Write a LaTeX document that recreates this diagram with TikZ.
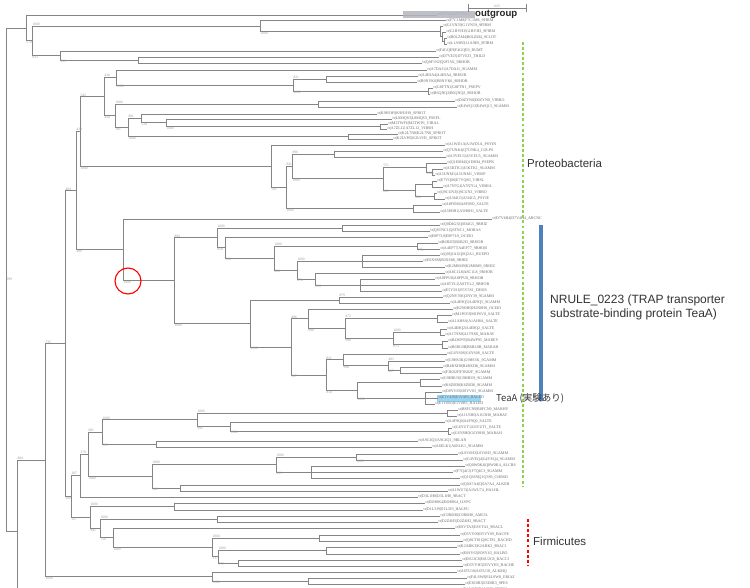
\documentclass[tikz,border=0pt]{standalone}
\usepackage{fontspec}
\setmainfont{Liberation Serif}
\newfontfamily\annot{Liberation Sans}
\newfontfamily\jpfont{Noto Sans CJK JP}
\usetikzlibrary{calc}
\definecolor{brc}{HTML}{858585}
\definecolor{labc}{HTML}{6A6A6A}
\definecolor{bsc}{HTML}{9A9A9A}
\definecolor{ogc}{HTML}{B4B6BE}
\definecolor{teac}{HTML}{9DD6F2}
\definecolor{grn}{HTML}{92D050}
\definecolor{barc}{HTML}{4F81BD}
\definecolor{anc}{HTML}{333333}
\tikzset{
  br/.style={draw=brc, line width=0.6pt},
  lab/.style={font=\fontsize{4}{4}\selectfont, text=labc, inner sep=0.5pt},
  bs/.style={font=\fontsize{3.6}{3.6}\selectfont, text=bsc, inner sep=0.3pt},
  ann/.style={font=\annot\fontsize{11.5}{14.5}\selectfont, text=anc, inner sep=0pt},
  dotline/.style={line width=2.9pt, dash pattern=on 2.9pt off 2.2pt},
}
\newcommand\leaf[5]{%
  \coordinate (#1) at (#2,#3);
  \node[lab,anchor=west] (#1t) at (#1) {tr|#4|#4\_#5};}
\newcommand\clade[5]{%
  \gdef\cfirst{}%
  \foreach \chld in {#3}{\ifx\cfirst\empty\xdef\cfirst{\chld}\fi\xdef\clast{\chld}}%
  \edef\tmp{\noexpand\coordinate (#1m) at ($(\cfirst)!0.5!(\clast)$);
    \noexpand\coordinate (#1) at (#2,0 |- #1m);
    \noexpand\draw[br] (#1 |- \cfirst) -- (#1 |- \clast);}\tmp
  \foreach \chld in {#3}{\edef\tmp{\noexpand\draw[br] (#1 |- \chld) -- (\chld);}\tmp}%
  \if\relax\detokenize{#4}\relax\else
    \edef\tmp{\noexpand\node[bs,anchor=south west] (#1t) at (#1 |- \cfirst) {#4};}\tmp\fi
  \if\relax\detokenize{#5}\relax\else
    \edef\tmp{\noexpand\node[bs,anchor=north west] (#1b) at (#1 |- \clast) {#5};}\tmp\fi
}
\begin{document}
\begin{tikzpicture}[x=1pt,y=-1pt]
\useasboundingbox (0,0) rectangle (750,588);
\fill[white] (0,0) rectangle (750,588);
\clip (0,0) rectangle (750,588);
% highlight
\fill[teac] (437,394.5) rectangle (481,401.5);
% leaves
\coordinate (L1) at (437,15);
\node[lab,anchor=west] (L1t) at (L1) {tr|D7T8S4|D7T8S4};
\leaf{L2}{446}{20.5}{F7C1M8}{9FIRM}
\leaf{L3}{443}{26}{G1VN59}{9FIRM}
\leaf{L4}{446}{32}{G1BYH3}{9FIRM}
\leaf{L5}{447}{38}{B0LZM4}{9CLOT}
\leaf{L6}{447}{44}{L1A9E0}{9FIRM}
\leaf{L7}{436}{51}{F4GQE9}{RUMT}
\leaf{L8}{439}{57}{D7VEJ3}{THILD}
\leaf{L9}{422}{63}{Q0F1N2}{9RHOB}
\leaf{L10}{427}{70}{A7DAJ1}{9GAMM}
\leaf{L11}{418}{76}{A4E9A4}{9RHOB}
\leaf{L12}{417}{82}{B9NVK6}{9RHOB}
\leaf{L13}{433}{88}{G8FTN1}{PSEPV}
\leaf{L14}{430}{94}{B6QNQ2}{9RHOB}
\leaf{L15}{455}{101}{D0ZYN0}{VIBRO}
\leaf{L16}{457}{107}{E4WQ13}{9GAMM}
\leaf{L17}{377}{114}{K9H1H9}{SPROT}
\leaf{L18}{392}{119}{L8MQS3}{PSEFL}
\leaf{L19}{388}{124}{M2TWF6}{VIBAL}
\leaf{L20}{387}{129}{A7ZL12}{VIBSH}
\leaf{L21}{398}{134}{K2L7N8}{SPROT}
\leaf{L22}{393}{139}{K2LVH5}{SPROT}
\leaf{L23}{445}{145}{A1WD1A}{PSYIN}
\leaf{L24}{443}{151}{Q7UNK4}{COLPS}
\leaf{L25}{446}{157}{A3VEU5}{9GAMM}
\leaf{L26}{447}{163}{Q1E8H4}{PSEPK}
\leaf{L27}{443}{169}{A5KTK1}{9GAMM}
\leaf{L28}{435}{175}{A5UNM1}{VIBSP}
\leaf{L29}{437}{181}{E7VQS0}{VIBSL}
\leaf{L30}{443}{187}{A7N7G4}{VIBHA}
\leaf{L31}{437}{193}{Q9CUN3}{VIBRO}
\leaf{L32}{445}{199}{A3I4G5}{PSYIE}
\leaf{L33}{442}{205}{A8F0N0}{SALTE}
\leaf{L34}{440}{212}{A5H0H1}{SALTE}
\leaf{L35}{492}{219}{D7V4H4}{ARCNC}
\leaf{L36}{440}{225}{Q0D4G5}{9RHIZ}
\leaf{L37}{430}{231}{Q6TNC1}{MORAS}
\leaf{L38}{428}{237}{E8P7L9}{OCEIO}
\leaf{L39}{438}{243}{B6B2I3}{9RHOB}
\leaf{L40}{440}{249}{A4EP77}{9RHOB}
\leaf{L41}{440}{255}{Q0Q2A1}{RUEPO}
\leaf{L42}{423}{261}{E0XS88}{9RHIZ}
\leaf{L43}{445}{267}{K2M6M9}{9RHIZ}
\leaf{L44}{445}{273}{A8C1L8}{9RHOB}
\leaf{L45}{435}{279}{A8FPU8}{9RHOB}
\leaf{L46}{440}{285}{A8TYL2}{9RHOB}
\leaf{L47}{442}{291}{E5V5S1}{DESIS}
\leaf{L48}{443}{297}{Q2NY39}{9GAMM}
\leaf{L49}{450}{303}{A4E9Q5}{9GAMM}
\leaf{L50}{453}{309}{H2N0H0}{OCEIO}
\leaf{L51}{452}{315}{M1P6V8}{SALTE}
\leaf{L52}{448}{322}{A1AH8A}{SALTE}
\leaf{L53}{447}{329}{A4E8Q2}{SALTE}
\leaf{L54}{445}{335}{A1T9X8}{MARAV}
\leaf{L55}{448}{341}{B4WP95}{MAREY}
\leaf{L56}{448}{348}{B6RL9B}{MARAH}
\leaf{L57}{447}{354}{G6YS0S}{SALTE}
\leaf{L58}{445}{361}{G9HS3K}{9GAMM}
\leaf{L59}{443}{367}{B4RXH8}{9GAMM}
\leaf{L60}{442}{373}{F3K82F}{9GAMM}
\leaf{L61}{440}{379}{G9HBU9}{9GAMM}
\leaf{L62}{442}{386}{K6Z0D8}{9GAMM}
\leaf{L63}{442}{392}{D8YV83}{9GAMM}
\leaf{L64}{438}{398}{E1V4J0}{HALED}
\leaf{L65}{435}{404}{E1V6R3}{HALED}
\leaf{L66}{458}{410}{B8FCN9}{MARHY}
\leaf{L67}{457}{416}{A1U3H0}{MARAV}
\leaf{L68}{445}{422}{A4F9Q0}{SALTE}
\leaf{L69}{452}{428}{G6YUT1}{SALTE}
\leaf{L70}{451}{434}{G6Y8H0}{MARAH}
\leaf{L71}{418}{441}{A9C4Q1}{9BLAN}
\leaf{L72}{432}{447}{A6ELK1}{9GAMM}
\leaf{L73}{458}{454}{L0V6H3}{9GAMM}
\leaf{L74}{463}{460}{G4VEQ4}{9GAMM}
\leaf{L75}{465}{466}{Q0W0K4}{ALCBS}
\leaf{L76}{453}{472}{F7Q4C3}{9GAMM}
\leaf{L77}{460}{478}{Q1Q3S9}{CHRSD}
\leaf{L78}{460}{485}{Q0A7A4}{ALKEH}
\leaf{L79}{448}{491}{A1WU74}{HALHL}
\leaf{L80}{418}{497}{D3L1H8}{9BACT}
\leaf{L81}{425}{503}{E6H8K4}{ILYPC}
\leaf{L82}{423}{510}{D1L3J9}{HALPU}
\leaf{L83}{440}{516}{C0R6H0}{AMCIL}
\leaf{L84}{438}{522}{D2Z4H3}{9BACT}
\leaf{L85}{455}{528}{E8VTA3}{9BACL}
\leaf{L86}{460}{535}{D5VY09}{BACPE}
\leaf{L87}{463}{541}{Q8CT81}{BACHD}
\leaf{L88}{457}{547}{K2ABK3}{9BACI}
\leaf{L89}{460}{554}{E0SY63}{HALBO}
\leaf{L90}{462}{560}{E6U2C8}{BACCI}
\leaf{L91}{463}{566}{D5VYH5}{BACHE}
\leaf{L92}{457}{572}{A6TU18}{ALKMQ}
\leaf{L93}{467}{578}{F4LSW8}{ERIAZ}
\leaf{L94}{465}{584}{E3E0R3}{9PES}
\leaf{L95}{460}{590}{E1A6H0}{9FIRM}
\coordinate (Loff) at (300,614);
% top group
\clade{G}{444}{L5,L6}{}{}
\clade{F}{442}{L4,G}{}{}
\clade{E}{440}{L3,F}{}{}
\clade{D}{260}{L2,E}{}{1000}
\clade{H}{138}{L8,L9}{}{}
\clade{C}{60}{L7,H}{}{999}
\clade{B}{32}{D,C}{1000}{833}
\clade{A}{26}{L1,B}{}{570}
% Q group
\clade{N326a}{326}{L11,L12}{}{}
\clade{N431}{428}{L13,L14}{}{}
\clade{N293}{293}{N326a,N431}{821}{1000}
\clade{N116}{116}{L10,N293}{}{1000}
\clade{N318}{318}{L15,L16}{}{}
\clade{N380}{380}{L19,L20}{}{}
\clade{N166}{166}{L18,N380}{}{1000}
\clade{N141}{141}{L17,N166}{}{534}
\clade{N348}{348}{L21,L22}{}{}
\clade{N128}{128}{N141,N348}{981}{1000}
\clade{N115}{115}{N318,N128}{1000}{181}
\clade{N104}{104}{N116,N115}{438}{420}
\clade{N334}{334}{L24,L25}{}{}
\clade{N437}{432}{L27,L28}{}{}
\clade{N428}{426}{L26,N437}{}{1000}
\clade{N440}{432}{L29,L30}{}{}
\clade{N433}{434}{L31,L32}{}{}
\clade{N415}{415}{N440,N433}{}{908}
\clade{N383}{383}{N428,N415}{551}{801}
\clade{N292}{292}{N334,N383}{896}{1000}
\clade{N413}{413}{L33,L34}{}{}
\clade{S}{286}{N292,N413}{841}{1000}
\clade{R}{271}{L23,S}{}{505}
\clade{Q}{80}{N104,R}{542}{1000}
% NRULE group
\clade{N342}{342}{L36,L37}{}{}
\clade{N417}{417}{L39,L40}{}{775}
\clade{N362}{362}{L41,L42,L43}{}{}
\clade{N360}{360}{L45,L46,L47}{}{}
\clade{N315}{315}{L44,N360}{}{999}
\clade{N297}{297}{N362,N315}{1000}{870}
\clade{N274}{274}{N417,N297}{1000}{820}
\clade{N225}{225}{L38,N274}{}{998}
\clade{N217}{217}{N342,N225}{1000}{858}
\clade{N339}{339}{L48,L49}{879}{}
\clade{N437b}{437}{L51,L52}{}{}
\clade{N445}{440}{L53,L54}{}{}
\clade{N442}{442}{L55,L56}{}{}
\clade{N393}{393}{N445,N442}{1000}{873}
\clade{N345}{345}{N437b,N393}{872}{998}
\clade{N308}{308}{L50,N345}{}{890}
\clade{N400}{400}{L59,L60}{}{}
\clade{N388}{388}{L58,N400}{483}{437}
\clade{N343}{343}{L57,N388}{}{998}
\clade{N420}{420}{L61,L62}{}{}
\clade{N425}{425}{L63,L64,L65}{}{}
\clade{N357}{357}{N420,N425}{}{1000}
\clade{N326}{326}{N343,N357}{821}{810}
\clade{N291}{291}{N308,N326}{896}{997}
\clade{N250}{250}{N339,N291}{}{1000}
\clade{N174}{174}{N217,N250}{894}{1000}
\clade{NR}{123}{L35,N174}{}{1000}
\clade{P}{76}{Q,NR}{429}{289}
% lower group
\clade{N447}{447}{L66,L67}{}{}
\clade{N448}{448}{L69,L70}{}{}
\clade{N230}{230}{L68,N448}{}{1000}
\clade{N197}{197}{N447,N230}{1000}{992}
\clade{N156}{156}{L71,L72}{}{}
\clade{N102}{102}{N197,N156}{1000}{999}
\clade{N356}{356}{L73,L74}{}{1000}
\clade{N311}{311}{L75,L76,L77}{}{}
\clade{N276}{276}{N356,N311}{1000}{991}
\clade{N180}{180}{L78,L79}{}{}
\clade{N152}{152}{N276,N180}{1000}{949}
\clade{N88}{88}{N102,N152}{681}{1000}
\clade{N80}{80}{N88,L80}{278}{}
\clade{N174b}{174}{L81,L82}{}{}
\clade{N217b}{217}{L83,L84}{}{}
\clade{N319}{319}{L86,L87}{}{}
\clade{N326b}{326}{L88,L89}{}{}
\clade{N238}{238}{L90,L91}{}{}
\clade{N218}{218}{N326b,N238}{1000}{777}
\clade{N212c}{212}{N319,N218}{1000}{317}
\clade{N113}{113}{L85,N212c}{}{1000}
\clade{N100}{100}{N217b,N113}{1000}{750}
\clade{N90}{90}{N174b,N100}{1000}{841}
\clade{N71}{71}{N80,N90}{287}{327}
\clade{Y}{65}{P,N71}{404}{209}
\clade{N308b}{308}{L93,L94}{}{}
\clade{N212d}{212}{L92,N308b}{}{1000}
\clade{N45}{45}{Y,N212d}{735}{1000}
\clade{Nbot}{200}{L95,Loff}{}{}
\clade{N17}{17}{N45,Nbot}{884}{}
\clade{Root}{6}{A,N17}{}{}
\node[bs,anchor=west] (rootlab) at (Root) {999};
% outgroup highlight (translucent, over the branch and label)
\fill[ogc, opacity=0.85] (403,11.5) rectangle (475,18.5);
% scale bar
\coordinate (sb1) at (468,8);
\coordinate (sb2) at (526,8);
\draw[br] (sb1) -- (sb2);
\draw[br] ([yshift=4pt]sb1) -- ([yshift=-4pt]sb1);
\draw[br] ([yshift=4pt]sb2) -- ([yshift=-4pt]sb2);
\node[bs,anchor=south] (sblab) at ($(sb1)!0.5!(sb2)$) {0.05};
% annotations
\node[anchor=west, inner sep=0pt, font=\annot\bfseries\fontsize{9.6}{10}\selectfont, text=black!85] (og) at (475,14.3) {outgroup};
\coordinate (g1) at (523,42);
\coordinate (g2) at (523,486);
\draw[dotline, draw=grn] (g1) -- (g2);
\node[ann, anchor=west] (prot) at (527,163) {Proteobacteria};
\coordinate (b1) at (540.8,225);
\coordinate (b2) at (540.8,401);
\draw[draw=barc, line width=4.5pt] (b1) -- (b2);
\node[ann, anchor=west, align=left, font=\annot\fontsize{12}{14.5}\selectfont] (nrule) at (550,307.5) {NRULE\_0223 (TRAP transporter\\substrate-binding protein TeaA)};
\node[anchor=west, inner sep=0pt, font=\jpfont\fontsize{9.5}{10}\selectfont, text=anc] (teaa) at (496,398) {TeaA (実験あり)};
\coordinate (r1) at (528,519);
\coordinate (r2) at (528,566);
\draw[dotline, draw=red] (r1) -- (r2);
\node[ann, anchor=west] (firm) at (533,541) {Firmicutes};
\node[draw=red, line width=1.1pt, circle, minimum size=26pt, inner sep=0pt] (ring) at (128,281) {};
\end{tikzpicture}
\end{document}
